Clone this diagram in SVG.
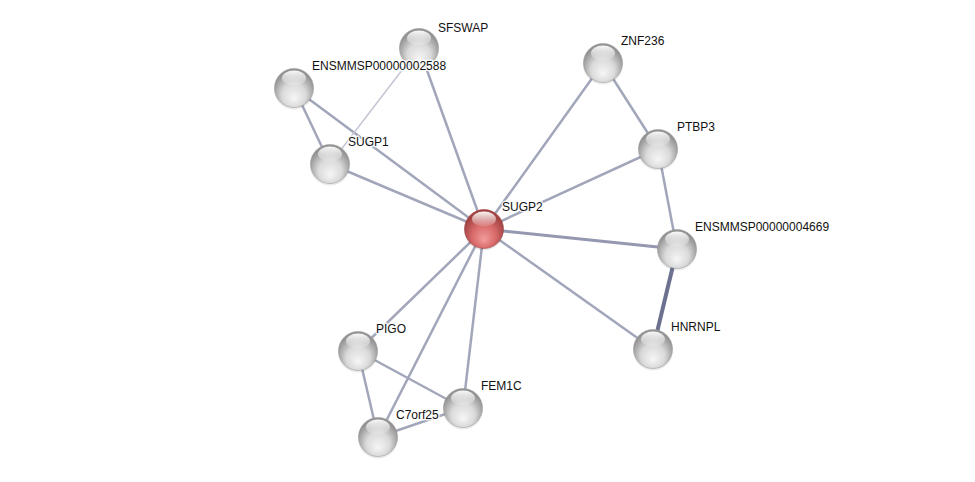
<svg xmlns="http://www.w3.org/2000/svg" width="975" height="482" viewBox="0 0 975 482">
<defs>
<radialGradient id="gGray" cx="0.5" cy="0.62" r="0.55" fx="0.5" fy="0.78">
<stop offset="0" stop-color="#f6f6f6"/>
<stop offset="0.55" stop-color="#dadada"/>
<stop offset="1" stop-color="#929292"/>
</radialGradient>
<radialGradient id="gRed" cx="0.5" cy="0.62" r="0.55" fx="0.5" fy="0.78">
<stop offset="0" stop-color="#f29c9c"/>
<stop offset="0.55" stop-color="#d86a6a"/>
<stop offset="1" stop-color="#a04040"/>
</radialGradient>
<linearGradient id="gHi" x1="0" y1="0" x2="0" y2="1">
<stop offset="0" stop-color="#ffffff" stop-opacity="0.95"/>
<stop offset="1" stop-color="#ffffff" stop-opacity="0.1"/>
</linearGradient>
<g id="ball">
<circle cx="0" cy="1.5" r="20" fill="#000" opacity="0.08"/>
<circle cx="0" cy="0" r="19.5" fill="url(#gGray)" stroke="#a0a0a0" stroke-width="0.6"/>
<ellipse cx="0" cy="-10" rx="12" ry="7.5" fill="url(#gHi)"/>
</g>
<g id="ballRed">
<circle cx="0" cy="1.5" r="20" fill="#000" opacity="0.08"/>
<circle cx="0" cy="0" r="19.5" fill="url(#gRed)" stroke="#a04848" stroke-width="0.6"/>
<ellipse cx="0" cy="-10" rx="12" ry="7.5" fill="url(#gHi)"/>
</g>
</defs>
<style>
.e{stroke:#a2a6ba;stroke-width:2.5;fill:none}
.thin{stroke:#c4c6d3;stroke-width:1.5}
.mid{stroke:#9498b0;stroke-width:3}
.thick{stroke:#6c7190;stroke-width:4}
text{font-family:"Liberation Sans",Arial,sans-serif;font-size:12px;fill:#111;stroke:#fff;stroke-width:3;stroke-opacity:0.8;paint-order:stroke;stroke-linejoin:round}
</style>
<rect width="975" height="482" fill="#fff"/>
<g id="edges">
<line class="e" x1="484" y1="229" x2="419" y2="48"/>
<line class="e" x1="484" y1="229" x2="294" y2="88"/>
<line class="e" x1="484" y1="229" x2="330" y2="164"/>
<line class="e" x1="484" y1="229" x2="603" y2="63"/>
<line class="e" x1="484" y1="229" x2="658" y2="149"/>
<line class="e mid" x1="484" y1="229" x2="677" y2="249"/>
<line class="e" x1="484" y1="229" x2="653" y2="349"/>
<line class="e" x1="484" y1="229" x2="358" y2="351"/>
<line class="e" x1="484" y1="229" x2="463" y2="408"/>
<line class="e" x1="484" y1="229" x2="378" y2="437"/>
<line class="e" x1="294" y1="88" x2="330" y2="164"/>
<line class="e thin" x1="419" y1="48" x2="330" y2="164"/>
<line class="e" x1="603" y1="63" x2="658" y2="149"/>
<line class="e" x1="658" y1="149" x2="677" y2="249"/>
<line class="e thick" x1="677" y1="249" x2="653" y2="349"/>
<line class="e" x1="358" y1="351" x2="463" y2="408"/>
<line class="e" x1="358" y1="351" x2="378" y2="437"/>
<line class="e" x1="378" y1="437" x2="463" y2="408"/>
</g>
<g id="SFSWAP"><use href="#ball" x="419" y="48"/><text x="438" y="32">SFSWAP</text></g>
<g id="ENSMMSP00000002588"><use href="#ball" x="294" y="88"/><text x="312" y="70">ENSMMSP00000002588</text></g>
<g id="SUGP1"><use href="#ball" x="330" y="164"/><text x="348" y="146">SUGP1</text></g>
<g id="ZNF236"><use href="#ball" x="603" y="63"/><text x="621" y="45">ZNF236</text></g>
<g id="PTBP3"><use href="#ball" x="658" y="149"/><text x="677" y="131">PTBP3</text></g>
<g id="ENSMMSP00000004669"><use href="#ball" x="677" y="249"/><text x="695" y="231">ENSMMSP00000004669</text></g>
<g id="HNRNPL"><use href="#ball" x="653" y="349"/><text x="671" y="331">HNRNPL</text></g>
<g id="PIGO"><use href="#ball" x="358" y="351"/><text x="376" y="333">PIGO</text></g>
<g id="FEM1C"><use href="#ball" x="463" y="408"/><text x="481" y="390">FEM1C</text></g>
<g id="C7orf25"><use href="#ball" x="378" y="437"/><text x="396" y="419">C7orf25</text></g>
<g id="SUGP2"><use href="#ballRed" x="484" y="229"/><text x="502" y="211">SUGP2</text></g>
</svg>
